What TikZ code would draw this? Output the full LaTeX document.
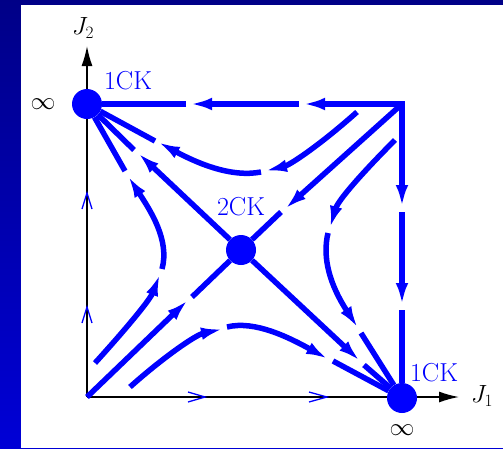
\documentclass[tikz,border=0pt]{standalone}
\usetikzlibrary{arrows.meta}

\begin{document}
\begin{tikzpicture}[x=1pt, y=-1pt,
        >={Latex[length=22pt,width=12.5pt]},
        fp/.style={circle, fill=blue, inner sep=0pt, minimum size=30pt},
        seg/.style={blue, line width=5.5pt},
        flow/.style={seg, ->},
        axis/.style={black, line width=1.5pt, -{Latex[length=20pt,width=11pt]}},
        chev/.style={blue, line width=1.3pt},
        lbl/.style={inner sep=0pt, font=\fontsize{26}{31}\selectfont},
        ck/.style={lbl, text=blue}]
      % slide frame
      \shade[top color=blue!53!black, bottom color=blue!84!black] (0,0) rectangle (503,448);
      \fill[white] (21,5) rectangle (503,448);
      \useasboundingbox (0,0) rectangle (503,448);
      % axes
      \coordinate (O) at (87,397);
      \coordinate (B) at (402,104);
      \draw[axis] (O) -- (87,46);
      \draw[axis] (O) -- (459,397);
      \node[lbl] (j2) at (83,28) {$J_2$};
      \node[lbl] (j1) at (482,396) {$J_1$};
      \node[lbl] (infA) at (43,104) {$\infty$};
      \node[lbl] (infC) at (402,430) {$\infty$};
      \draw[chev] (82,209) -- (87,193) -- (92,209);
      \draw[chev] (82,323) -- (87,307) -- (92,323);
      \draw[chev] (188,392) -- (205,397) -- (188,402);
      \draw[chev] (309,392) -- (327,397) -- (309,402);
      % fixed points
      \node[fp] (ckA) at (87,104) {};
      \node[fp] (ckM) at (241,250) {};
      \node[fp] (ckC) at (402,398) {};
      \node[ck] (ckAl) at (128,81) {1CK};
      \node[ck] (ckMl) at (241,207) {2CK};
      \node[ck] (ckCl) at (434,373) {1CK};
      % edges of the square
      \draw[seg, <->] (303,104) -- (B) -- (402,207);
      \draw[flow] (299,104) -- (190,104);
      \draw[seg] (186,104) -- (ckA);
      \draw[flow] (402,212) -- (402,305);
      \draw[seg] (402,310) -- (ckC);
      % separatrices through 2CK
      \draw[flow] (B) -- (285,209);
      \draw[seg] (281,212) -- (ckM);
      \draw[flow] (O) -- (188,300);
      \draw[seg] (192,297) -- (ckM);
      \draw[flow] (ckM) -- (138,153);
      \draw[seg] (134,150) -- (ckA);
      \draw[flow] (ckM) -- (360,361);
      \draw[seg] (364,365) -- (ckC);
      % hyperbolic flows
      \draw[flow] (357,112) .. controls (320,145) and (290,165) .. (265,171);
      \draw[flow] (261,172) .. controls (230,178) and (195,162) .. (158,142);
      \draw[seg] (155,141) -- (ckA);
      \draw[flow] (395,140) .. controls (365,170) and (338,200) .. (330,228);
      \draw[flow] (328,233) .. controls (322,258) and (330,285) .. (358,328);
      \draw[seg] (361,333) -- (ckC);
      \draw[flow] (95,363) .. controls (125,330) and (150,300) .. (160,274);
      \draw[flow] (162,269) .. controls (170,240) and (150,210) .. (128,176);
      \draw[seg] (125,171) -- (ckA);
      \draw[flow] (130,387) .. controls (160,360) and (195,335) .. (223,329);
      \draw[flow] (227,327) .. controls (255,320) and (290,338) .. (328,359);
      \draw[seg] (333,361) -- (ckC);
\end{tikzpicture}
\end{document}
